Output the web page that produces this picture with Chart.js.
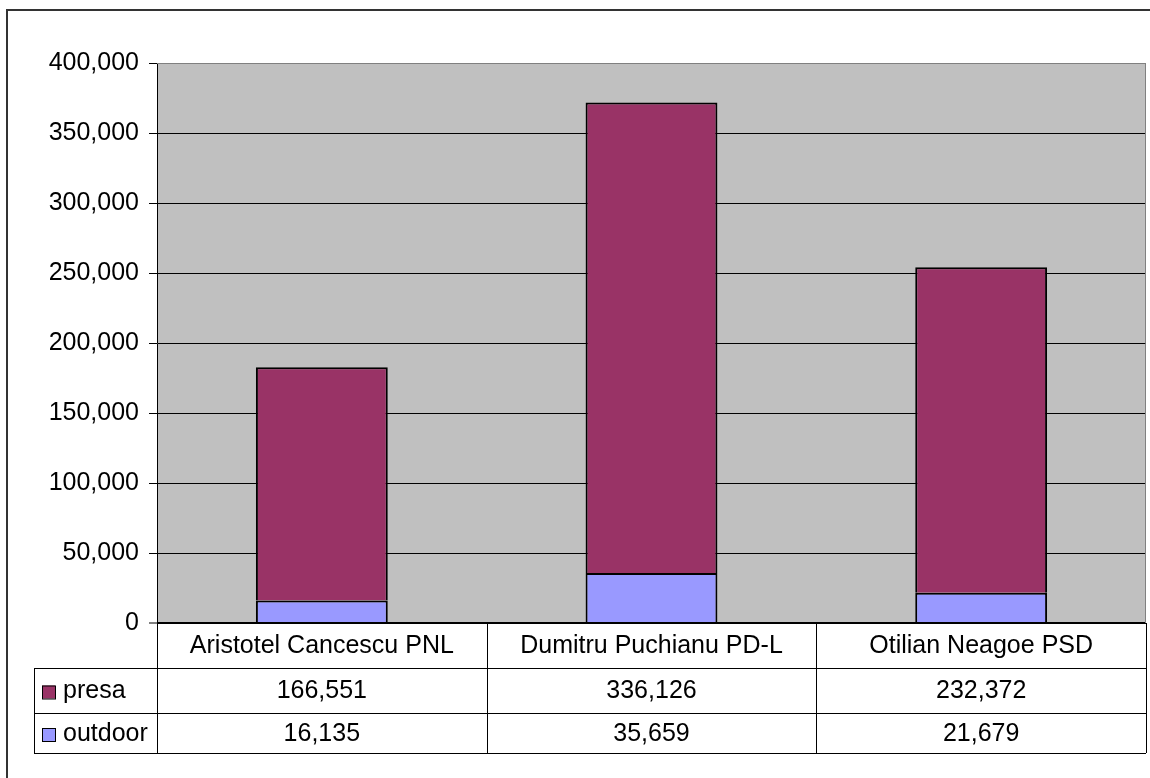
<!DOCTYPE html>
<html>
<head>
<meta charset="utf-8">
<script src="https://cdn.jsdelivr.net/npm/chart.js@4/dist/chart.umd.min.js"></script>
<style>
  html, body { margin: 0; padding: 0; background: #fff; }
  canvas { display: block; }
</style>
</head>
<body>
<canvas id="chart" width="1150" height="778"></canvas>
<script>
const categories = ['Aristotel Cancescu PNL', 'Dumitru Puchianu PD-L', 'Otilian Neagoe PSD'];
const presa = [166551, 336126, 232372];
const outdoor = [16135, 35659, 21679];
const yTicks = [0, 50000, 100000, 150000, 200000, 250000, 300000, 350000, 400000];

const FONT = "'Liberation Sans', Arial, sans-serif";
const fmt = v => v.toLocaleString('en-US');

// series as shown in the data table (top row first)
const tableRows = [
    { label: 'presa', values: presa, color: '#993366' },
    { label: 'outdoor', values: outdoor, color: '#9999FF' }
];

const tablePlugin = {
    id: 'tablePlugin',
    beforeDraw(chart) {
        const { ctx, chartArea: a } = chart;
        ctx.save();
        // outer frame
        ctx.strokeStyle = '#333';
        ctx.lineWidth = 2;
        ctx.strokeRect(7, 10, 1150, 800);
        // plot background
        ctx.fillStyle = '#C0C0C0';
        ctx.fillRect(a.left, a.top, a.right - a.left, a.bottom - a.top);
        ctx.restore();
    },
    beforeDatasetsDraw(chart) {
        const { ctx, chartArea: a } = chart;
        ctx.save();
        ctx.strokeStyle = '#808080';
        ctx.lineWidth = 1;
        ctx.beginPath();
        ctx.moveTo(a.left, a.top + 0.5);
        ctx.lineTo(a.right - 0.5, a.top + 0.5);
        ctx.lineTo(a.right - 0.5, a.bottom);
        ctx.stroke();
        ctx.restore();
    },
    afterDraw(chart) {
        const { ctx, chartArea: a } = chart;
        const xs = chart.scales.x;
        const colW = (a.right - a.left) / categories.length;
        const rowH = 45;
        const top = a.bottom;
        const headBottom = top + rowH;
        const tableLeft = 34;
        const rowHs = [45, 40];
        const bottom = headBottom + rowHs[0] + rowHs[1];

        ctx.save();
        ctx.strokeStyle = '#000';
        ctx.lineWidth = 1;
        ctx.beginPath();
        // column separators
        for (let i = 0; i <= categories.length; i++) {
            const x = Math.round(a.left + i * colW) + 0.5;
            ctx.moveTo(x, top);
            ctx.lineTo(x, bottom);
        }
        ctx.moveTo(tableLeft + 0.5, headBottom);
        ctx.lineTo(tableLeft + 0.5, bottom);
        // horizontal rows
        let y = headBottom;
        [0].concat(rowHs).forEach(h => {
            y += h;
            const yy = Math.round(y) + 0.5;
            ctx.moveTo(tableLeft, yy);
            ctx.lineTo(a.right, yy);
        });
        ctx.stroke();

        ctx.fillStyle = '#000';
        ctx.font = '25px ' + FONT;
        ctx.textAlign = 'center';
        ctx.textBaseline = 'middle';
        categories.forEach((c, i) => {
            ctx.fillText(c, xs.getPixelForValue(i), top + rowH / 2 + 1);
        });

        let rowTop = headBottom;
        tableRows.forEach((r, k) => {
            const cy = rowTop + rowHs[k] / 2;
            ctx.fillStyle = r.color;
            ctx.fillRect(42, cy - 5, 13, 13);
            ctx.strokeStyle = '#000';
            ctx.strokeRect(42.5, cy - 4.5, 13, 13);
            ctx.fillStyle = '#000';
            ctx.textAlign = 'left';
            ctx.fillText(r.label, 63, cy + 1);
            ctx.textAlign = 'center';
            r.values.forEach((v, i) => {
                ctx.fillText(fmt(v), xs.getPixelForValue(i), cy + 1);
            });
            rowTop += rowHs[k];
        });
        ctx.restore();
    }
};

new Chart(document.getElementById('chart'), {
    type: 'bar',
    data: {
        labels: categories,
        datasets: [{
            label: 'outdoor',
            data: outdoor,
            backgroundColor: '#9999FF',
            borderColor: '#000',
            borderWidth: { top: 2, left: 2, right: 2, bottom: 0 },
            borderSkipped: false
        }, {
            label: 'presa',
            data: presa,
            backgroundColor: '#993366',
            borderColor: '#000',
            borderWidth: { top: 2, left: 2, right: 2, bottom: 0 },
            borderSkipped: false
        }]
    },
    options: {
        responsive: false,
        animation: false,
        devicePixelRatio: 1,
        layout: {
            padding: { left: 0, right: 4, top: 63, bottom: 155 }
        },
        plugins: {
            legend: { display: false },
            tooltip: { enabled: false }
        },
        datasets: {
            bar: { categoryPercentage: 1, barPercentage: 0.4 }
        },
        scales: {
            x: {
                stacked: true,
                display: false
            },
            y: {
                stacked: true,
                min: 0,
                max: 400000,
                afterFit(s) { s.width = 157; },
                afterBuildTicks(s) { s.ticks = yTicks.map(v => ({ value: v })); },
                border: { display: true, color: '#000', width: 1 },
                grid: {
                    color: c => c.tick && c.tick.value === 400000 ? '#808080' : '#000',
                    lineWidth: c => c.tick && c.tick.value === 0 ? 2 : 1,
                    tickColor: '#000',
                    tickLength: 8,
                    tickWidth: 1
                },
                ticks: {
                    color: '#000',
                    padding: 10,
                    font: { family: FONT, size: 25 },
                    callback: v => fmt(v)
                }
            }
        }
    },
    plugins: [tablePlugin]
});
</script>
</body>
</html>
